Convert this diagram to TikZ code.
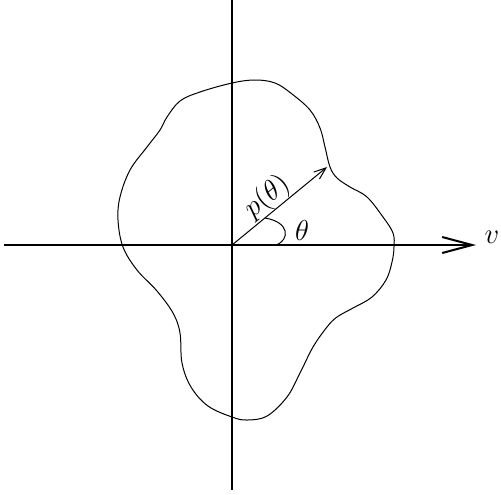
\documentclass[tikz,border=0pt]{standalone}
\usepackage{amsmath,amssymb}
\usepackage{tikz}
\usetikzlibrary{arrows.meta}

\begin{document}
\begin{tikzpicture}[
    x=0.5pt, y=-0.5pt,
    achse/.style={line width=1pt, line cap=butt},
    rand/.style={line width=0.5pt},
    radius/.style={line width=0.5pt, -{Straight Barb[length=6pt, width=4.5pt, line width=0.5pt]}},
    winkel/.style={line width=0.5pt},
    beschr/.style={font=\Large, inner sep=0pt}
]
\useasboundingbox (0,0) rectangle (501,494);
% ---------- Achsen ----------
\coordinate (O)   at (232,245);
\coordinate (xl)  at (4,245);
\coordinate (xr)  at (476,245);
\coordinate (yo)  at (232,0);
\coordinate (yu)  at (232,490);
\draw[achse, -{Straight Barb[length=15pt, width=8pt, line width=1pt]}] (xl) -- (xr);
\draw[achse] (yo) -- (yu);
\node[beschr] (v) at (492,237) {$v$};
% ---------- Randkurve ----------
\draw[rand] plot[smooth cycle, tension=0.6] coordinates {
  (232,83) (255,80) (275,83) (292,94) (310,110) (320,128) (325,147)
  (330,167) (337,178) (350,187) (367,197) (383,217) (393,233) (394,247)
  (392,262) (386,280) (372,297) (353,308) (337,317) (327,327) (313,347)
  (300,373) (287,397) (267,416) (247,420) (232,417) (208,406) (191,387)
  (182,363) (180,333) (173,313) (157,291) (137,270) (123,247) (118,220)
  (120,197) (130,170) (147,147) (160,130) (167,117) (180,101) (200,92)};
% ---------- Radius und Winkel ----------
\coordinate (P)  at (327,167);
\coordinate (w1) at (276,245);
\coordinate (w2) at (265,218);
\draw[radius] (O) -- node[beschr, pos=0.47, sloped, above] (ptheta) {$p(\theta)$} (P);
\draw[winkel] (w1) .. controls (290,240) and (290,222) .. (w2);
\node[beschr] (theta) at (302,230) {$\theta$};
\end{tikzpicture}
\end{document}
